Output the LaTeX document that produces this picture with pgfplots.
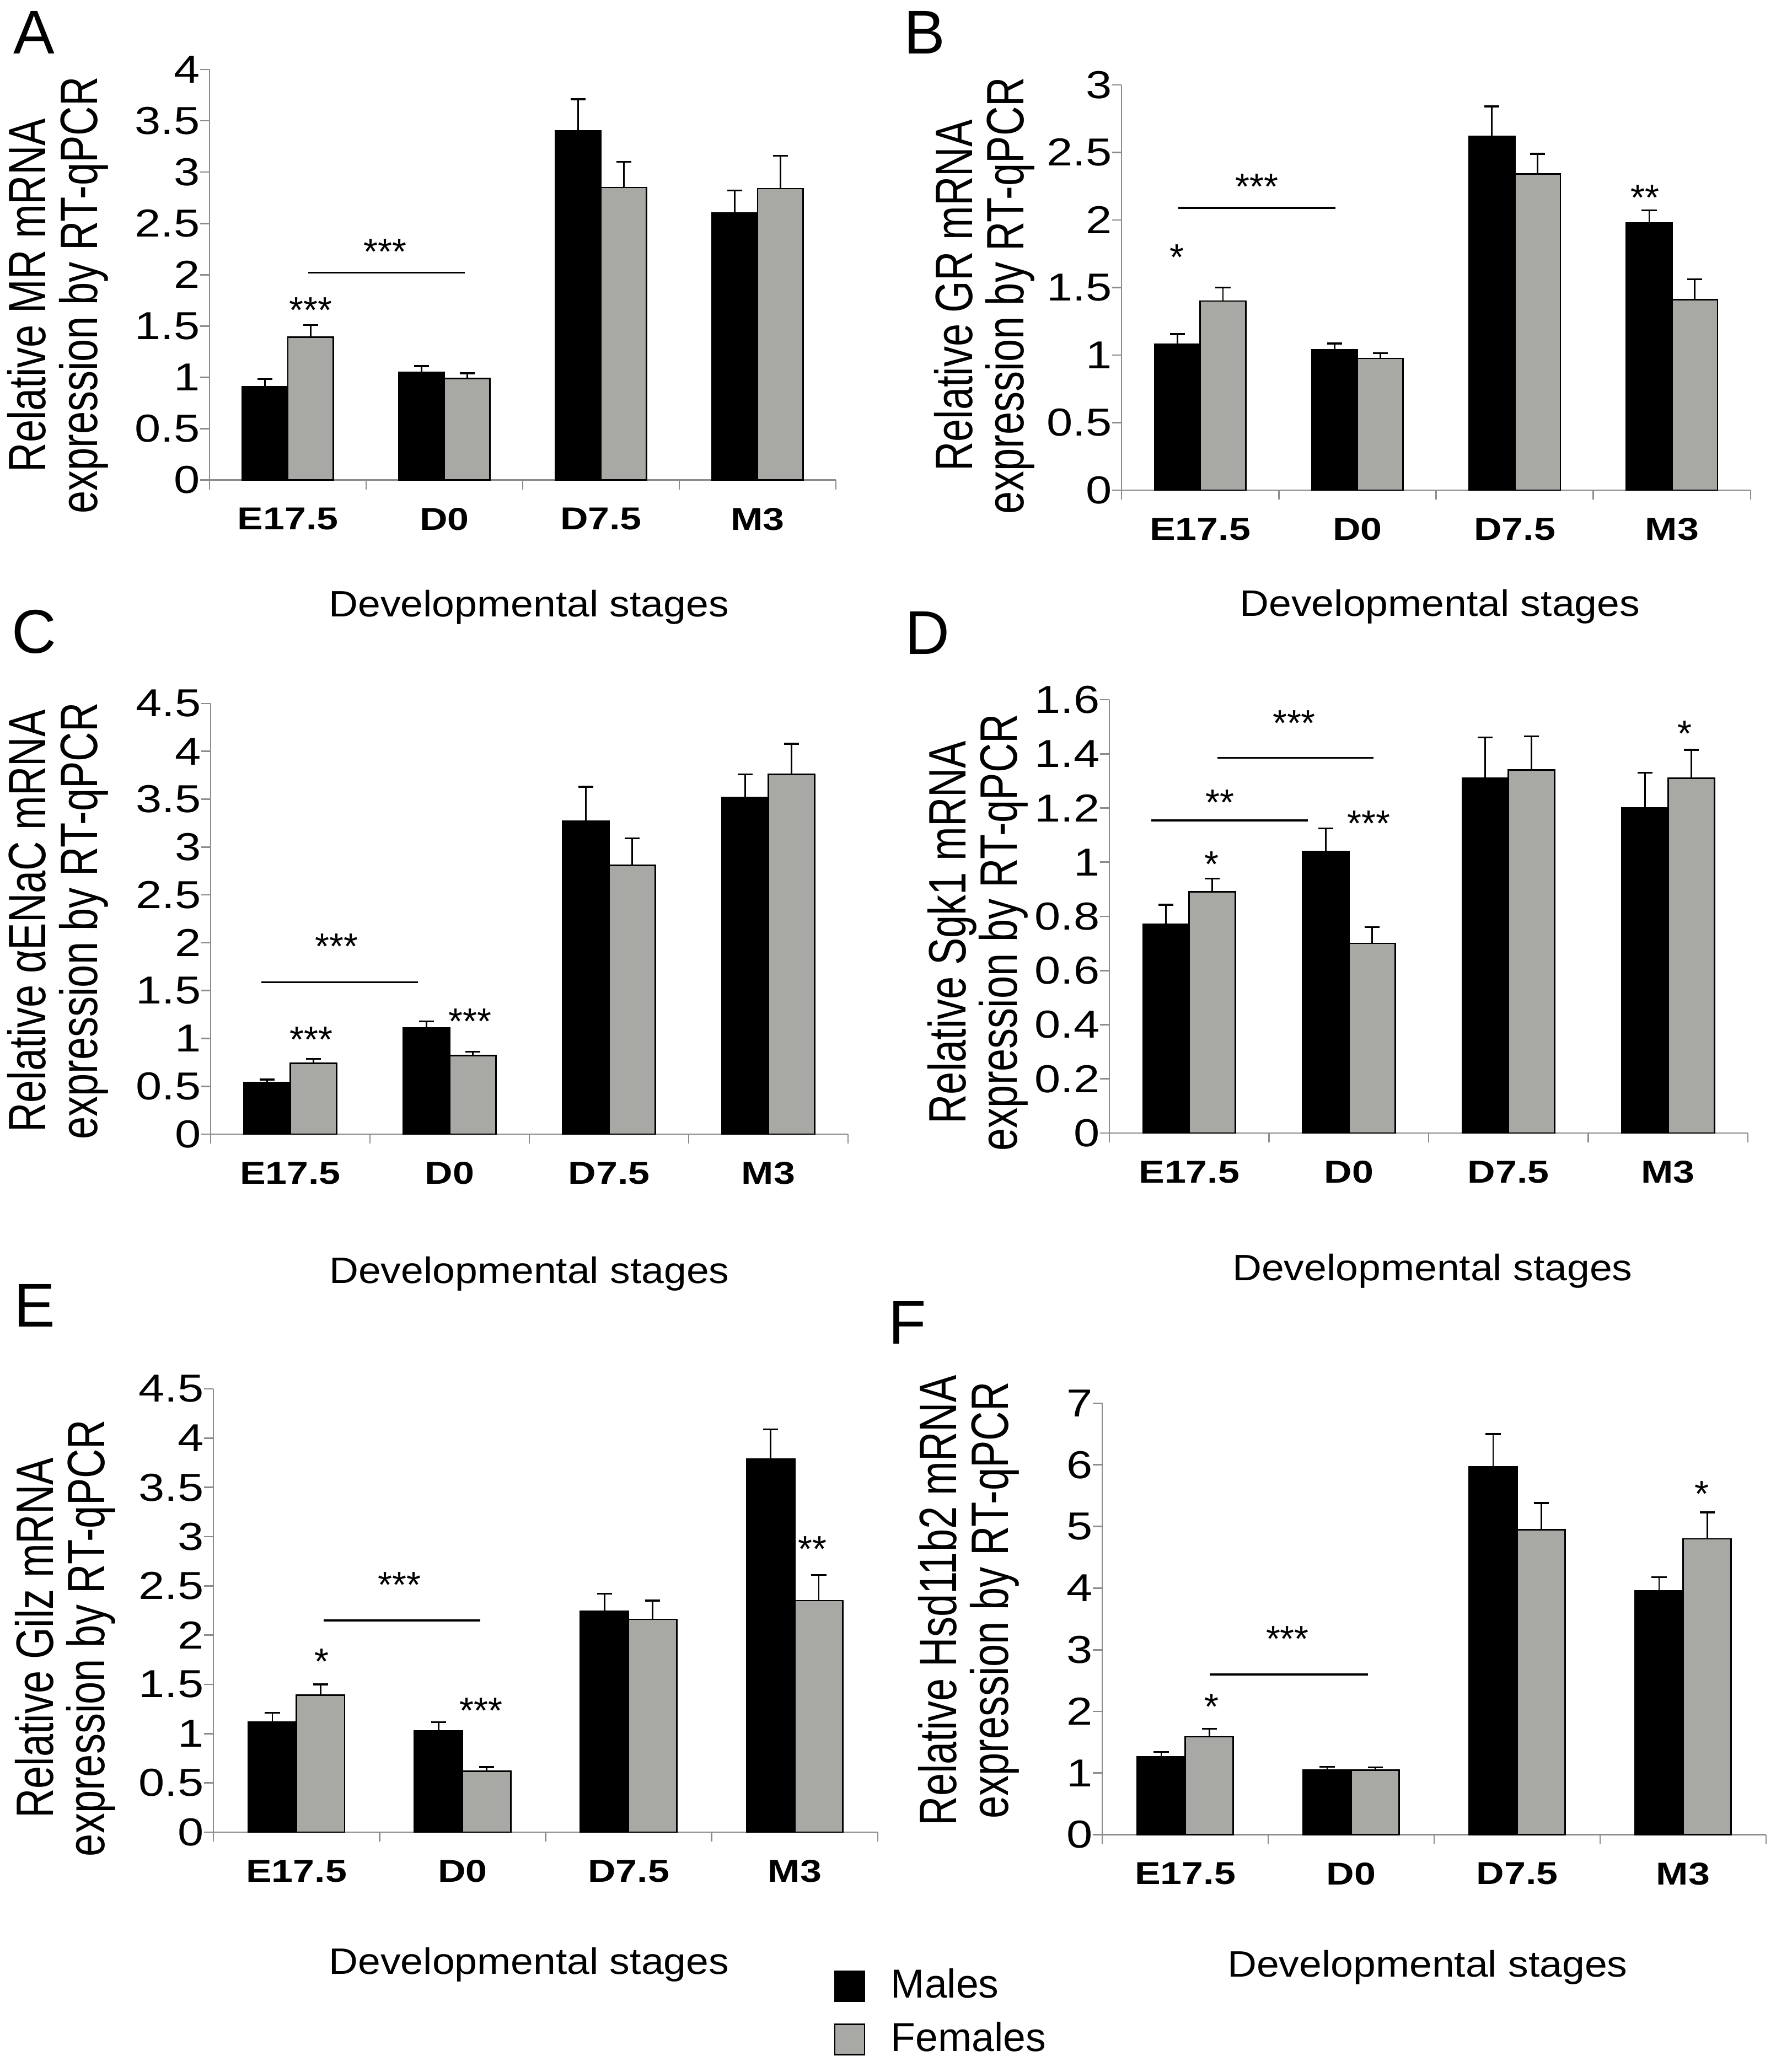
\documentclass[border=0pt]{standalone}
\usepackage{fontspec}
\setmainfont{Liberation Sans}
\newfontfamily\yticksf{Liberation Sans}[FakeStretch=1.2]
\newfontfamily\xlabsf{Liberation Sans}[FakeStretch=1.1]
\newfontfamily\xticksf{Liberation Sans}[FakeStretch=1.22]
\usepackage{graphicx}
\usepackage{pgfplots}
\usepackage{pgfplotstable}
\pgfplotsset{compat=1.18}
\definecolor{axgray}{RGB}{140,140,140}
\definecolor{fgray}{RGB}{168,168,165}
\newcommand{\ylab}[2]{\scalebox{1}[1.29]{\begin{tabular}{@{}c@{}}#1\\#2\end{tabular}}}

\pgfplotsset{
  panel/.style={
    scale only axis, anchor=south west,
    xmin=-0.5, xmax=3.5, ymin=0,
    axis x line*=bottom, axis y line*=left,
    axis line style={draw=axgray, line width=0.4pt, -},
    tick style={draw=axgray, line width=0.4pt},
    tick align=outside, major tick length=2.6pt,
    xtick={-0.5,0.5,1.5,2.5,3.5}, xticklabels={,,,,},
    extra x ticks={0,1,2,3}, extra x tick labels={E17.5,D0,D7.5,M3},
    extra x tick style={tick style={draw=none}},
    xticklabel style={font=\xticksf\bfseries\fontsize{8.6}{10}\selectfont, yshift=-1.5pt},
    yticklabel style={font=\yticksf\fontsize{10.6}{12}\selectfont, xshift=3.5pt},
    /pgf/number format/assume math mode=true,
    clip=false,
  },
  labpos/.style n args={4}{
    every axis y label/.style={at={(axis description cs:#1,#2)}, rotate=90, anchor=center, font=\fontsize{11.1}{9.5}\selectfont},
    every axis x label/.style={at={(axis description cs:#3,#4)}, anchor=center, font=\xlabsf\fontsize{10}{12}\selectfont},
    xlabel={Developmental stages},
  },
  males/.style={ybar, bar width=0.29, bar shift=0pt, fill=black, draw=black, line width=0.4pt,
    error bars/.cd, y dir=plus, y explicit, error mark=-, error bar style={line width=0.4pt, black},
    error mark options={rotate=90, line width=0.5pt, mark size=2.05pt, black}},
  females/.style={ybar, bar width=0.29, bar shift=0pt, fill=fgray, draw=black, line width=0.4pt,
    error bars/.cd, y dir=plus, y explicit, error mark=-, error bar style={line width=0.4pt, black},
    error mark options={rotate=90, line width=0.5pt, mark size=2.05pt, black}},
  sigline/.style={black, line width=0.5pt, forget plot, no markers, sharp plot},
}
\tikzset{
  star/.style={font=\fontsize{10}{12}\selectfont, anchor=base, yshift=-5.8pt, inner sep=0pt},
  letter/.style={font=\fontsize{16.8}{18}\selectfont, anchor=center, inner sep=0pt},
}

\pgfplotstableread{
x m me f fe
0 0.91 0.075 1.39 0.12
1 1.05 0.06 0.99 0.05
2 3.40 0.31 2.85 0.25
3 2.60 0.22 2.84 0.32
}\tabA
\pgfplotstableread{
x m me f fe
0 1.08 0.075 1.40 0.10
1 1.04 0.045 0.975 0.04
2 2.62 0.22 2.34 0.15
3 1.98 0.09 1.41 0.15
}\tabB
\pgfplotstableread{
x m me f fe
0 0.54 0.03 0.74 0.045
1 1.11 0.07 0.82 0.04
2 3.27 0.36 2.81 0.28
3 3.52 0.24 3.76 0.32
}\tabC
\pgfplotstableread{
x m me f fe
0 0.77 0.073 0.89 0.05
1 1.04 0.085 0.70 0.06
2 1.31 0.15 1.34 0.125
3 1.20 0.13 1.31 0.105
}\tabD
\pgfplotstableread{
x m me f fe
0 1.12 0.09 1.39 0.11
1 1.03 0.087 0.62 0.04
2 2.24 0.18 2.16 0.19
3 3.79 0.30 2.35 0.26
}\tabE
\pgfplotstableread{
x m me f fe
0 1.26 0.08 1.59 0.13
1 1.05 0.05 1.05 0.04
2 5.97 0.53 4.95 0.43
3 3.96 0.22 4.80 0.43
}\tabF

\newcommand{\bars}[1]{%
\addplot[males] table[x expr=\thisrow{x}-0.145,y=m,y error=me]{#1};
\addplot[females] table[x expr=\thisrow{x}+0.145,y=f,y error=fe]{#1};
}

\begin{document}
\begin{tikzpicture}
\useasboundingbox (0pt,0pt) rectangle (483.15pt,563.7pt);

% Panel A
\begin{axis}[panel, at={(57pt,433.11pt)}, width=170.4pt, height=111.69pt,
  ymax=4, ytick={0,0.5,...,4},
  labpos={-0.24}{0.45}{0.51}{-0.31},
  ylabel={\ylab{Relative MR mRNA}{expression by RT-qPCR}}]
\bars{\tabA}
\addplot[sigline] coordinates {(0.13,2.02) (1.13,2.02)};
\node[star] at (axis cs:0.146,1.74) {***};
\node[star] at (axis cs:0.62,2.31) {***};
\end{axis}

% Panel B
\begin{axis}[panel, at={(305.1pt,430.35pt)}, width=171.15pt, height=110.25pt,
  ymax=3, ytick={0,0.5,...,3},
  labpos={-0.216}{0.48}{0.506}{-0.287},
  ylabel={\ylab{Relative GR mRNA}{expression by RT-qPCR}}]
\bars{\tabB}
\addplot[sigline] coordinates {(-0.14,2.09) (0.86,2.09)};
\node[star] at (axis cs:-0.147,1.79) {*};
\node[star] at (axis cs:0.36,2.31) {***};
\node[star] at (axis cs:2.83,2.23) {**};
\end{axis}

% Panel C
\begin{axis}[panel, at={(57.3pt,255.15pt)}, width=173.4pt, height=117.15pt,
  ymax=4.5, ytick={0,0.5,...,4.5},
  labpos={-0.238}{0.495}{0.5}{-0.324},
  ylabel={\ylab{Relative αENaC mRNA}{expression by RT-qPCR}}]
\bars{\tabC}
\addplot[sigline] coordinates {(-0.18,1.588) (0.80,1.588)};
\node[star] at (axis cs:0.132,1.08) {***};
\node[star] at (axis cs:1.127,1.266) {***};
\node[star] at (axis cs:0.292,2.05) {***};
\end{axis}

% Panel D
\begin{axis}[panel, at={(301.8pt,255.45pt)}, width=173.7pt, height=117.9pt,
  ymax=1.6, ytick={0,0.2,0.4,0.6,0.8,1,1.2,1.4,1.6},
  labpos={-0.204}{0.463}{0.506}{-0.318},
  ylabel={\ylab{Relative Sgk1 mRNA}{expression by RT-qPCR}}]
\bars{\tabD}
\addplot[sigline] coordinates {(-0.237,1.154) (0.742,1.154)};
\addplot[sigline] coordinates {(0.178,1.385) (1.154,1.385)};
\node[star] at (axis cs:0.142,1.024) {*};
\node[star] at (axis cs:0.192,1.253) {**};
\node[star] at (axis cs:1.125,1.175) {***};
\node[star] at (axis cs:0.657,1.545) {***};
\node[star] at (axis cs:3.105,1.506) {*};
\end{axis}

% Panel E
\begin{axis}[panel, at={(58.05pt,65.25pt)}, width=180.75pt, height=120.6pt,
  ymax=4.5, ytick={0,0.5,...,4.5},
  labpos={-0.221}{0.438}{0.475}{-0.299},
  ylabel={\ylab{Relative Gilz mRNA}{expression by RT-qPCR}},
  legend style={at={(axis description cs:0.933,-0.29)}, anchor=north west, draw=none, fill=none,
    font=\fontsize{11}{13}\selectfont, row sep=1pt, inner sep=0pt,
    /tikz/every odd column/.append style={column sep=5pt}},
  legend cell align=left,
  legend image code/.code={\draw[#1,line width=0.4pt] (0pt,-4.1pt) rectangle (8.1pt,4.1pt);}]
\addplot[males] table[x expr=\thisrow{x}-0.145,y=m,y error=me]{\tabE};
\addlegendentry{Males}
\addplot[females] table[x expr=\thisrow{x}+0.145,y=f,y error=fe]{\tabE};
\addlegendentry{Females}
\addplot[sigline] coordinates {(0.164,2.15) (1.105,2.15)};
\node[star] at (axis cs:0.151,1.82) {*};
\node[star] at (axis cs:1.112,1.32) {***};
\node[star] at (axis cs:0.621,2.60) {***};
\node[star] at (axis cs:3.105,2.96) {**};
\end{axis}

% Panel F
\begin{axis}[panel, at={(299.85pt,64.56pt)}, width=180.6pt, height=117.39pt,
  ymax=7, ytick={0,1,...,7},
  labpos={-0.199}{0.543}{0.49}{-0.307},
  ylabel={\ylab{Relative Hsd11b2 mRNA}{expression by RT-qPCR}}]
\bars{\tabF}
\addplot[sigline] coordinates {(0.149,2.60) (1.10,2.60)};
\node[star] at (axis cs:0.159,2.22) {*};
\node[star] at (axis cs:0.616,3.32) {***};
\node[star] at (axis cs:3.114,5.67) {*};
\end{axis}

\node[letter] at (9.3pt,554.85pt) {A};
\node[letter] at (251.55pt,554.85pt) {B};
\node[letter] at (9.3pt,391.8pt) {C};
\node[letter] at (252.3pt,391.5pt) {D};
\node[letter] at (9.45pt,208.5pt) {E};
\node[letter] at (246.9pt,203.85pt) {F};
\end{tikzpicture}
\end{document}
